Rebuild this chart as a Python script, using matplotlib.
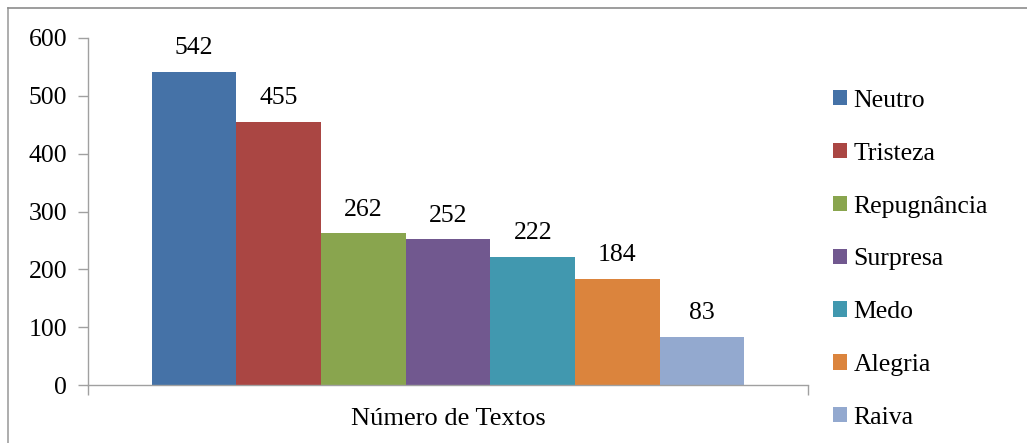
import matplotlib
matplotlib.use("Agg")
import matplotlib.pyplot as plt
from matplotlib.lines import Line2D
import numpy as np

category = "Número de Textos"
series = ["Neutro", "Tristeza", "Repugnância", "Surpresa", "Medo", "Alegria", "Raiva"]
values = [542, 455, 262, 252, 222, 184, 83]
colors = ["#4572A7", "#AA4643", "#89A54E", "#71588F", "#4198AF", "#DB843D", "#93A9CF"]
yticks = [0, 100, 200, 300, 400, 500, 600]

plt.rcParams['font.family'] = ['Liberation Serif', 'DejaVu Serif']

W, H = 1027, 443
fig = plt.figure(figsize=(W / 100, H / 100), dpi=100)
ax = fig.add_axes([88 / W, (H - 385) / H, 720 / W, 347 / H])

FS = 18.5
n = len(series)
bw = 1.0 / (n + 1.5)
start = -n * bw / 2
handles = []
for i, (s, v, c) in enumerate(zip(series, values, colors)):
    x = start + bw * (i + 0.5)
    b = ax.bar(x, v, width=bw, color=c, label=s, linewidth=0)
    handles.append(b)
    ax.text(x, v + 22, str(v), ha='center', va='bottom', fontsize=FS)

ax.set_xlim(-0.5, 0.5)
ax.set_ylim(0, 600)
ax.set_yticks(yticks)
ax.set_yticklabels([str(t) for t in yticks], fontsize=FS)
ax.set_xticks([-0.5, 0.5])
ax.set_xticklabels([])
ax.tick_params(axis='y', direction='out', length=7, width=1, color='#A0A0A0', pad=8)
ax.tick_params(axis='x', direction='out', length=7, width=1, color='#A0A0A0')
for sp in ['top', 'right']:
    ax.spines[sp].set_visible(False)
for sp in ['left', 'bottom']:
    ax.spines[sp].set_color('#A0A0A0')
    ax.spines[sp].set_linewidth(1)
ax.text(0, -0.065, category, transform=ax.get_xaxis_transform(), ha='center', va='top', fontsize=FS + 0.5)

leg = fig.legend(handles=handles, labels=series, loc='upper left',
                 bbox_to_anchor=(820 / W, 1 - 77 / H), frameon=False, fontsize=FS,
                 handlelength=0.55, handleheight=0.55, handletextpad=0.25,
                 labelspacing=1.2, borderpad=0)

# outer chart border (only top and left visible)
fig.add_artist(Line2D([8 / W, 8 / W], [0, 1 - 8 / H], transform=fig.transFigure, color='#A0A0A0', lw=1.2))
fig.add_artist(Line2D([8 / W, 1], [1 - 8 / H, 1 - 8 / H], transform=fig.transFigure, color='#8C8C8C', lw=1.2))

fig.savefig("out.png", dpi=100)
